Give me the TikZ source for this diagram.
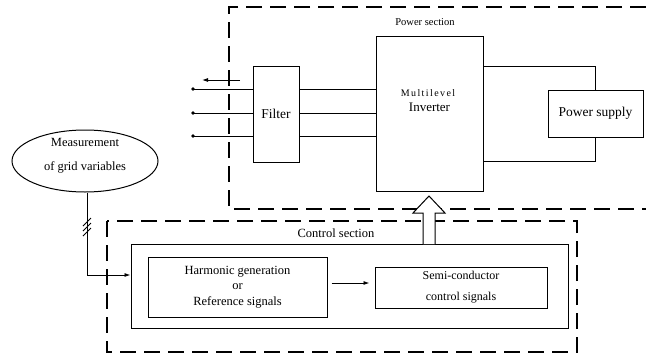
\documentclass[tikz,border=0pt]{standalone}
\usepackage{fontspec}
\setmainfont{Liberation Serif}
\usetikzlibrary{shapes.geometric,arrows.meta,calc}
\newcommand{\fsz}[2]{\fontsize{#1}{#2}\selectfont}
\begin{document}
\begin{tikzpicture}[x=1pt,y=-1pt,
  line width=0.9pt,
  block/.style={draw,line width=1pt,inner sep=0pt,align=center},
  section/.style={draw,line width=1.3pt,dash pattern=on 16pt off 8pt},
  wire/.style={line width=1pt},
  sig/.style={line width=0.9pt,-{Latex[length=6pt,width=4pt]}},
  lbl/.style={inner sep=0pt,align=center}]
\useasboundingbox (0,0) rectangle (646,354);

% dashed section frames
\draw[section] (646,7) -- (229,7) -- (229,209) -- (646,209);
\draw[section] (107,221) rectangle (577,352);
\node[lbl,font=\fsz{10.5}{12}] (pslabel) at (425,22) {Power section};
\node[lbl,font=\fsz{12.5}{14}] (cslabel) at (336,233) {Control section};

% power section blocks
\node[block,minimum width=46pt,minimum height=96pt,font=\fsz{13.5}{15}] (filter) at (276,114) {Filter};
\node[block,minimum width=107pt,minimum height=155pt] (inv) at (429.5,113.5) {};
\node[lbl,font=\fsz{10}{11}\addfontfeature{LetterSpace=14}] (invt1) at (428,93) {Multilevel};
\node[lbl,font=\fsz{13}{14}] (invt2) at (429.5,107) {Inverter};
\node[block,minimum width=95pt,minimum height=47pt,font=\fsz{13.5}{15}] (ps) at (595.5,113.5) {Power supply};

% three phase lines
\foreach \yy/\nm in {89/a,113/b,136/c}{
  \coordinate (p\nm) at (193,\yy);
  \fill (p\nm) circle (1.9pt);
  \draw[wire] (p\nm) -- (filter.west |- p\nm);
  \draw[wire] (filter.east |- p\nm) -- (inv.west |- p\nm);
}
\coordinate (oa) at (240,80);
\coordinate (ob) at (202,80);
\draw[sig] (oa) -- (ob);

% supply connections
\coordinate (s1) at (483,66);
\coordinate (s2) at (483,161);
\draw[wire] (s1) -| (ps.north);
\draw[wire] (s2) -| (ps.south);

% measurement
\node[draw,ellipse,line width=1pt,minimum width=146pt,minimum height=62pt] (meas) at (85,161) {};
\node[lbl,font=\fsz{12.5}{24}] (meastext) at (85,155.5) {Measurement\\of grid variables};

% control section blocks
\node[block,minimum width=437pt,minimum height=84pt] (ctl) at (349.5,286) {};
\node[block,minimum width=179pt,minimum height=60pt,font=\fsz{12.5}{15.5}] (harm) at (237.5,287) {Harmonic generation\\or\\Reference signals};
\node[block,minimum width=172pt,minimum height=41pt,font=\fsz{12}{21}] (semi) at (461,287.5) {Semi-conductor\\control signals};

\coordinate (mbend) at (87,275);
\draw[sig] (meas.south -| mbend) -- (mbend) -- (ctl.west |- mbend);
\foreach \dy in {-5,0,5}
  \draw[line width=0.8pt] (83,227+\dy+4) -- (91,227+\dy-4);

\draw[sig] ($(harm.east)+(4,-4)$) -- ($(semi.west)+(-5,-4.5)$);

% hollow arrow from control to inverter
\draw[line width=1pt,fill=white,line join=miter]
  (423,244) -- (423,213) -- (413,213) -- (429,196) -- (445,213) -- (435,213) -- (435,244);
\end{tikzpicture}
\end{document}
